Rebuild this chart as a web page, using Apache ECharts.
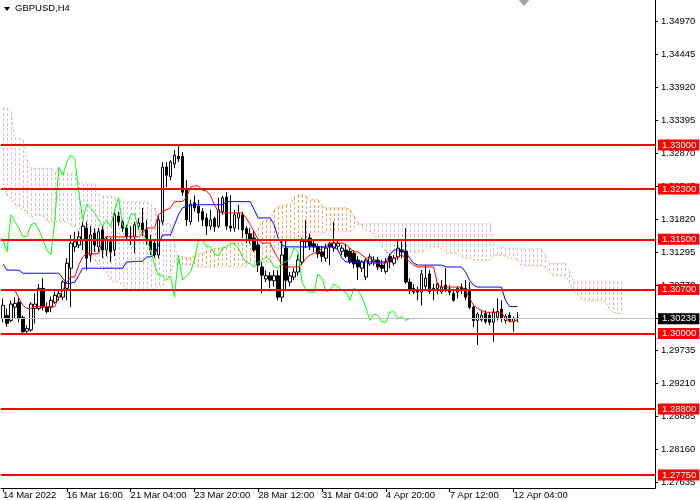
<!DOCTYPE html>
<html><head><meta charset="utf-8">
<script src="https://cdn.jsdelivr.net/npm/echarts@6/dist/echarts.min.js"></script>
<style>html,body{margin:0;padding:0;background:#fff}#c{width:700px;height:500px}</style>
</head><body><div id="c"></div>
<script>
const symbolTitle = 'GBPUSD,H4';
const tickLabels = ['14 Mar 2022','16 Mar 16:00','21 Mar 04:00','23 Mar 20:00','28 Mar 12:00','31 Mar 04:00','4 Apr 20:00','7 Apr 12:00','12 Apr 04:00'];
const yTickValues = [1.34970,1.34445,1.33920,1.33395,1.32870,1.32345,1.31820,1.31295,1.30770,1.30245,1.29735,1.29210,1.28685,1.28160,1.27635];
const levels = [1.33000,1.32300,1.31500,1.30700,1.30000,1.28800,1.27750];
const lastPrice = 1.30238;

const opens = [
1.3024,1.3029,1.3021,1.3042,1.3050,1.3026,1.3004,1.3006,1.3040,1.3040,
1.3072,1.3043,1.3042,1.3050,1.3058,1.3058,1.3072,1.3104,1.3138,1.3141,
1.3149,1.3168,1.3125,1.3160,1.3138,1.3165,1.3133,1.3146,1.3133,1.3187,
1.3178,1.3168,1.3154,1.3155,1.3171,1.3176,1.3165,1.3149,1.3144,1.3125,
1.3178,1.3265,1.3250,1.3270,1.3282,1.3282,1.3228,1.3178,1.3208,1.3203,
1.3194,1.3184,1.3171,1.3183,1.3171,1.3194,1.3217,1.3171,1.3168,1.3184,
1.3189,1.3167,1.3159,1.3152,1.3141,1.3106,1.3087,1.3092,1.3084,1.3092,
1.3058,1.3136,1.3082,1.3090,1.3098,1.3114,1.3146,1.3152,1.3143,1.3138,
1.3130,1.3120,1.3143,1.3136,1.3139,1.3131,1.3133,1.3131,1.3128,1.3117,
1.3104,1.3090,1.3111,1.3114,1.3117,1.3109,1.3099,1.3123,1.3112,1.3122,
1.3133,1.3131,1.3082,1.3072,1.3069,1.3066,1.3075,1.3095,1.3072,1.3072,
1.3066,1.3077,1.3071,1.3064,1.3066,1.3074,1.3072,1.3069,1.3042,1.3021,
1.3022,1.3032,1.3029,1.3018,1.3026,1.3039,1.3021,1.3029,1.3019,1.3025];
const closes = [
1.3045,1.3016,1.3047,1.3048,1.3024,1.3003,1.3008,1.3047,1.3047,1.3072,
1.3042,1.3035,1.3053,1.3061,1.3064,1.3082,1.3112,1.3144,1.3146,1.3154,
1.3171,1.3120,1.3157,1.3141,1.3162,1.3133,1.3149,1.3130,1.3189,1.3178,
1.3168,1.3154,1.3155,1.3173,1.3176,1.3165,1.3149,1.3133,1.3125,1.3181,
1.3265,1.3252,1.3273,1.3284,1.3278,1.3225,1.3181,1.3206,1.3200,1.3192,
1.3181,1.3171,1.3181,1.3170,1.3197,1.3216,1.3171,1.3168,1.3189,1.3191,
1.3165,1.3159,1.3149,1.3133,1.3109,1.3093,1.3092,1.3085,1.3092,1.3058,
1.3125,1.3085,1.3092,1.3098,1.3117,1.3147,1.3149,1.3139,1.3138,1.3127,
1.3123,1.3136,1.3138,1.3144,1.3144,1.3136,1.3123,1.3114,1.3111,1.3106,
1.3114,1.3117,1.3122,1.3117,1.3106,1.3104,1.3114,1.3114,1.3120,1.3136,
1.3130,1.3082,1.3069,1.3066,1.3066,1.3095,1.3088,1.3067,1.3069,1.3079,
1.3074,1.3069,1.3066,1.3053,1.3072,1.3069,1.3058,1.3042,1.3021,1.3031,
1.3029,1.3019,1.3018,1.3034,1.3035,1.3024,1.3027,1.3021,1.3024,1.30238];
const lows = [
1.3018,1.3011,1.3018,1.3024,1.3018,1.3000,1.3000,1.3003,1.3016,1.3037,
1.3037,1.3032,1.3034,1.3047,1.3053,1.3053,1.3053,1.3042,1.3130,1.3136,
1.3133,1.3101,1.3114,1.3130,1.3130,1.3120,1.3123,1.3114,1.3123,1.3171,
1.3162,1.3149,1.3141,1.3128,1.3165,1.3155,1.3141,1.3125,1.3120,1.3120,
1.3173,1.3233,1.3244,1.3263,1.3273,1.3219,1.3171,1.3173,1.3194,1.3178,
1.3171,1.3157,1.3165,1.3162,1.3168,1.3189,1.3165,1.3162,1.3162,1.3165,
1.3152,1.3144,1.3143,1.3130,1.3098,1.3064,1.3082,1.3072,1.3075,1.3053,
1.3050,1.3069,1.3075,1.3085,1.3092,1.3109,1.3136,1.3133,1.3130,1.3120,
1.3114,1.3114,1.3109,1.3130,1.3133,1.3125,1.3120,1.3111,1.3104,1.3085,
1.3098,1.3085,1.3108,1.3108,1.3101,1.3098,1.3095,1.3104,1.3108,1.3117,
1.3120,1.3079,1.3063,1.3063,1.3053,1.3045,1.3069,1.3063,1.3053,1.3063,
1.3063,1.3066,1.3061,1.3051,1.3056,1.3063,1.3053,1.3039,1.3010,1.2982,
1.3019,1.3016,1.3013,1.2987,1.3021,1.3018,1.3016,1.3018,1.3003,1.3018];
const highs = [
1.3056,1.3040,1.3053,1.3058,1.3058,1.3029,1.3013,1.3050,1.3064,1.3079,
1.3088,1.3050,1.3059,1.3067,1.3069,1.3085,1.3120,1.3157,1.3162,1.3163,
1.3178,1.3178,1.3171,1.3168,1.3168,1.3171,1.3155,1.3152,1.3194,1.3194,
1.3181,1.3173,1.3171,1.3178,1.3184,1.3200,1.3181,1.3157,1.3149,1.3189,
1.3273,1.3273,1.3276,1.3292,1.3300,1.3289,1.3244,1.3213,1.3220,1.3213,
1.3200,1.3191,1.3197,1.3186,1.3216,1.3219,1.3225,1.3220,1.3197,1.3205,
1.3194,1.3171,1.3168,1.3165,1.3149,1.3114,1.3101,1.3098,1.3101,1.3101,
1.3149,1.3149,1.3098,1.3104,1.3125,1.3152,1.3181,1.3159,1.3149,1.3143,
1.3139,1.3143,1.3146,1.3178,1.3149,1.3141,1.3143,1.3136,1.3133,1.3123,
1.3117,1.3120,1.3127,1.3123,1.3122,1.3117,1.3120,1.3127,1.3125,1.3149,
1.3146,1.3168,1.3088,1.3079,1.3075,1.3101,1.3108,1.3101,1.3079,1.3082,
1.3085,1.3104,1.3077,1.3071,1.3075,1.3080,1.3085,1.3082,1.3045,1.3034,
1.3037,1.3037,1.3034,1.3040,1.3056,1.3053,1.3031,1.3034,1.3027,1.3034];

const tenkan = [
1.3069,1.3069,1.3069,1.3069,1.3056,1.3045,1.3040,1.3040,1.3043,1.3043,
1.3043,1.3043,1.3043,1.3043,1.3058,1.3069,1.3082,1.3090,1.3090,1.3109,
1.3122,1.3127,1.3127,1.3127,1.3127,1.3149,1.3154,1.3154,1.3154,1.3154,
1.3154,1.3154,1.3154,1.3154,1.3154,1.3160,1.3168,1.3168,1.3168,1.3189,
1.3194,1.3197,1.3200,1.3210,1.3210,1.3210,1.3216,1.3233,1.3235,1.3235,
1.3228,1.3227,1.3220,1.3205,1.3194,1.3192,1.3192,1.3192,1.3192,1.3192,
1.3192,1.3184,1.3173,1.3162,1.3149,1.3144,1.3144,1.3144,1.3130,1.3120,
1.3109,1.3106,1.3106,1.3106,1.3106,1.3111,1.3120,1.3125,1.3128,1.3130,
1.3136,1.3139,1.3144,1.3144,1.3144,1.3144,1.3141,1.3136,1.3130,1.3130,
1.3125,1.3120,1.3120,1.3112,1.3112,1.3112,1.3112,1.3117,1.3120,1.3122,
1.3125,1.3120,1.3114,1.3109,1.3106,1.3106,1.3106,1.3106,1.3106,1.3077,
1.3074,1.3074,1.3074,1.3074,1.3074,1.3074,1.3069,1.3056,1.3045,1.3040,
1.3037,1.3034,1.3034,1.3034,1.3034,1.3034,1.3024,1.3019,1.3019,1.3022];
const kijun = [
1.3111,1.3101,1.3101,1.3101,1.3101,1.3096,1.3096,1.3096,1.3096,1.3096,
1.3096,1.3096,1.3096,1.3096,1.3096,1.3088,1.3080,1.3080,1.3082,1.3093,
1.3104,1.3104,1.3104,1.3104,1.3104,1.3104,1.3104,1.3104,1.3104,1.3104,
1.3104,1.3114,1.3114,1.3115,1.3115,1.3115,1.3122,1.3122,1.3125,1.3141,
1.3157,1.3157,1.3157,1.3173,1.3189,1.3200,1.3203,1.3203,1.3205,1.3205,
1.3205,1.3205,1.3205,1.3205,1.3205,1.3205,1.3210,1.3210,1.3210,1.3210,
1.3210,1.3210,1.3210,1.3197,1.3184,1.3184,1.3184,1.3184,1.3173,1.3152,
1.3141,1.3138,1.3138,1.3138,1.3138,1.3138,1.3138,1.3138,1.3138,1.3138,
1.3138,1.3138,1.3138,1.3138,1.3133,1.3120,1.3114,1.3114,1.3114,1.3114,
1.3114,1.3114,1.3114,1.3114,1.3114,1.3114,1.3114,1.3125,1.3133,1.3133,
1.3133,1.3130,1.3120,1.3112,1.3109,1.3109,1.3109,1.3109,1.3109,1.3109,
1.3109,1.3106,1.3106,1.3106,1.3106,1.3106,1.3098,1.3085,1.3077,1.3074,
1.3074,1.3074,1.3074,1.3074,1.3074,1.3074,1.3053,1.3043,1.3043,1.3043];
const spanA = [
1.3239,1.3220,1.3216,1.3205,1.3203,1.3197,1.3194,1.3184,1.3189,1.3189,
1.3187,1.3178,1.3178,1.3178,1.3178,1.3178,1.3178,1.3173,1.3171,1.3162,
1.3146,1.3133,1.3122,1.3117,1.3109,1.3104,1.3098,1.3085,1.3082,1.3082,
1.3079,1.3069,1.3069,1.3069,1.3069,1.3069,1.3069,1.3069,1.3072,1.3074,
1.3077,1.3085,1.3098,1.3114,1.3125,1.3122,1.3120,1.3120,1.3123,1.3127,
1.3128,1.3131,1.3133,1.3135,1.3136,1.3136,1.3136,1.3141,1.3144,1.3144,
1.3144,1.3149,1.3152,1.3157,1.3168,1.3178,1.3181,1.3181,1.3197,1.3202,
1.3203,1.3205,1.3205,1.3217,1.3220,1.3220,1.3219,1.3213,1.3213,1.3213,
1.3203,1.3200,1.3200,1.3200,1.3200,1.3200,1.3200,1.3197,1.3187,1.3178,
1.3170,1.3165,1.3162,1.3159,1.3149,1.3139,1.3129,1.3129,1.3129,1.3129,
1.3129,1.3129,1.3130,1.3130,1.3130,1.3130,1.3133,1.3136,1.3138,1.3138,
1.3135,1.3128,1.3128,1.3128,1.3127,1.3122,1.3120,1.3120,1.3117,1.3117,
1.3117,1.3117,1.3117,1.3123,1.3125,1.3125,1.3123,1.3120,1.3120,1.3117,
1.3109,1.3108,1.3108,1.3108,1.3108,1.3108,1.3104,1.3098,1.3092,1.3092,
1.3092,1.3092,1.3082,1.3069,1.3061,1.3056,1.3053,1.3053,1.3053,1.3053,
1.3053,1.3050,1.3040,1.3034,1.3032,1.3032];
const spanB = [
1.3359,1.3359,1.3353,1.3311,1.3311,1.3308,1.3276,1.3263,1.3263,1.3263,
1.3263,1.3263,1.3263,1.3257,1.3255,1.3255,1.3255,1.3255,1.3255,1.3241,
1.3238,1.3238,1.3238,1.3238,1.3222,1.3219,1.3219,1.3219,1.3216,1.3210,
1.3210,1.3210,1.3210,1.3210,1.3210,1.3210,1.3210,1.3206,1.3200,1.3178,
1.3175,1.3175,1.3175,1.3149,1.3109,1.3109,1.3109,1.3109,1.3108,1.3106,
1.3106,1.3106,1.3106,1.3106,1.3106,1.3106,1.3106,1.3106,1.3106,1.3106,
1.3106,1.3108,1.3114,1.3114,1.3114,1.3114,1.3114,1.3114,1.3125,1.3133,
1.3136,1.3141,1.3146,1.3149,1.3149,1.3152,1.3152,1.3155,1.3157,1.3157,
1.3160,1.3162,1.3162,1.3162,1.3162,1.3162,1.3162,1.3162,1.3168,1.3173,
1.3175,1.3175,1.3175,1.3175,1.3175,1.3175,1.3175,1.3175,1.3175,1.3175,
1.3175,1.3175,1.3175,1.3175,1.3175,1.3175,1.3175,1.3175,1.3175,1.3175,
1.3175,1.3175,1.3175,1.3175,1.3175,1.3175,1.3175,1.3175,1.3175,1.3175,
1.3175,1.3175,1.3175,1.3144,1.3138,1.3138,1.3136,1.3136,1.3136,1.3136,
1.3135,1.3135,1.3135,1.3135,1.3135,1.3135,1.3125,1.3112,1.3112,1.3112,
1.3112,1.3112,1.3101,1.3082,1.3082,1.3082,1.3082,1.3082,1.3082,1.3082,
1.3082,1.3082,1.3082,1.3082,1.3082,1.3082];
const chikouShift = 26;
const chikou = closes.slice(chikouShift);

const SLOTS = 164;
const MONTHS = ['Jan','Feb','Mar','Apr','May','Jun','Jul','Aug','Sep','Oct','Nov','Dec'];
const categories = [];
(function(){
  let t = Date.UTC(2022,2,14,0);
  while (categories.length < SLOTS) {
    const d = new Date(t);
    const wd = d.getUTCDay();
    if (wd !== 0 && wd !== 6) {
      const hh = String(d.getUTCHours()).padStart(2,'0');
      categories.push(d.getUTCDate()+' '+MONTHS[d.getUTCMonth()]+' '+hh+':00');
    }
    t += 4*3600*1000;
  }
})();

const FONT = 'Liberation Sans, Arial, sans-serif';
const chart = echarts.init(document.getElementById('c'), null, {renderer:'canvas'});
const showTick = (i) => i % 16 === 0 && i / 16 < tickLabels.length;

const levelLines = levels.map(v => ({
  yAxis: v,
  lineStyle: {color:'#FF0000', width:2, type:'solid'},
  label: {show:true, position:'end', distance:3, formatter: () => v.toFixed(5),
    color:'#FFFFFF', backgroundColor:'#FF0000', padding:[1,3,0,4], fontSize:9.5, fontFamily:FONT}
}));
levelLines.push({
  yAxis: lastPrice,
  lineStyle: {color:'#C0C0C0', width:1, type:'solid'},
  label: {show:true, position:'end', distance:3, formatter: () => lastPrice.toFixed(5),
    color:'#FFFFFF', backgroundColor:'#000000', padding:[1,3,0,4], fontSize:9.5, fontFamily:FONT}
});

const option = {
  animation: false,
  backgroundColor: '#FFFFFF',
  grid: {left:0, right:45, top:0, bottom:12, containLabel:false},
  graphic: [
    {type:'polygon', shape:{points:[[4,7],[10,7],[7,11]]}, style:{fill:'#000'}},
    {type:'text', left:15, top:3, style:{text:symbolTitle, fontSize:9.5, fontFamily:FONT, fill:'#000'}},
    {type:'polygon', shape:{points:[[519,0],[529,0],[524,6]]}, style:{fill:'#A0A0A0'}}
  ],
  xAxis: {
    type:'category', data:categories, boundaryGap:true,
    axisLine:{show:true, lineStyle:{color:'#000', width:1}},
    axisTick:{show:true, alignWithLabel:true, interval:(i)=>showTick(i), length:4, lineStyle:{color:'#000'}},
    axisLabel:{show:true, interval:(i)=>showTick(i), formatter:(v,i)=>tickLabels[i/16], align:'left',
      margin:2, fontSize:9.5, color:'#000', fontFamily:FONT},
    splitLine:{show:false}
  },
  yAxis: {
    type:'value', position:'right', min:1.27544, max:1.35307,
    axisLine:{show:true, onZero:false, lineStyle:{color:'#000', width:1}},
    axisTick:{show:true, customValues:yTickValues, length:3, lineStyle:{color:'#000'}},
    axisLabel:{show:true, customValues:yTickValues, formatter:(v)=>Number(v).toFixed(5),
      margin:6, fontSize:9.5, color:'#000', fontFamily:FONT},
    splitLine:{show:false}
  },
  series: [
    {
      name:'kumo', type:'custom', z:1, silent:true,
      data: spanA.map((a,i)=>[i, a, spanB[i]]),
      encode:{x:0, y:[1,2]},
      renderItem:(params, api) => {
        const i = api.value(0), a = api.value(1), b = api.value(2);
        const p1 = api.coord([i, a]), p2 = api.coord([i, b]);
        const x = Math.round(p1[0]) + 0.5;
        const yTop = Math.round(Math.min(p1[1], p2[1])), yBot = Math.round(Math.max(p1[1], p2[1]));
        return {type:'line', shape:{x1:x, y1:yTop, x2:x, y2:yBot},
          style:{stroke: a > b ? '#F4A460' : '#D8BFD8', lineWidth:1, lineDash:[3,2]}};
      }
    },
    {name:'Senkou A', type:'line', data:spanA, symbol:'none', z:2, silent:true,
      lineStyle:{color:'#F4A460', width:1, type:[2,2]}},
    {name:'Senkou B', type:'line', data:spanB, symbol:'none', z:2, silent:true,
      lineStyle:{color:'#D8BFD8', width:1, type:[2,2]}},
    {name:'GBPUSD', type:'candlestick', z:3, barWidth:3,
      data: opens.map((o,i)=>[o, closes[i], lows[i], highs[i]]),
      itemStyle:{color:'#FFFFFF', color0:'#000000', borderColor:'#000000', borderColor0:'#000000', borderWidth:1}},
    {name:'Tenkan', type:'line', data:tenkan, symbol:'none', z:4, silent:true,
      lineStyle:{color:'#FF0000', width:1}},
    {name:'Kijun', type:'line', data:kijun, symbol:'none', z:4, silent:true,
      lineStyle:{color:'#0000FF', width:1}},
    {name:'Chikou', type:'line', data:chikou, symbol:'none', z:4, silent:true,
      lineStyle:{color:'#00FF00', width:1}},
    {name:'levels', type:'line', data:[], symbol:'none', z:10, clip:false, silent:true,
      markLine:{silent:true, precision:5, symbol:['none','none'], animation:false, data:levelLines}}
  ]
};
chart.setOption(option);
</script>
</body></html>
